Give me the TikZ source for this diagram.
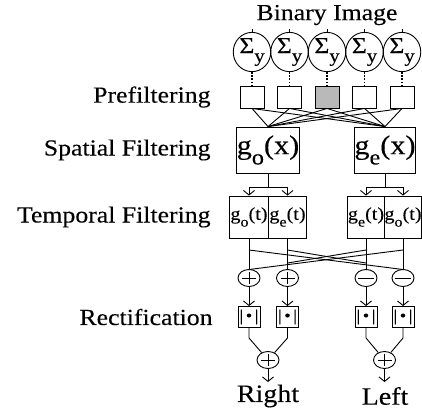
\documentclass[tikz,border=0pt]{standalone}
\usepackage{fontspec}
\usepackage{graphicx}
\setmainfont{Liberation Serif}[FakeStretch=1.12,FakeBold=0.2]
\usetikzlibrary{shapes.geometric,arrows.meta}
\newcommand\dnsub[1]{\raisebox{-0.38em}{\scalebox{0.8}{#1}}}
\tikzset{
  lbl/.style={font=\fontsize{23}{26}\selectfont, inner sep=0pt},
  sig/.style={ellipse, draw, minimum width=37.5, minimum height=25, inner sep=0pt, font=\fontsize{23}{24}\selectfont},
  pbox/.style={draw, minimum width=24, minimum height=22, inner sep=0pt},
  sbox/.style={draw, minimum width=58, minimum height=46, inner sep=0pt, font=\fontsize{27}{29}\selectfont},
  tbox/.style={draw, minimum width=38.5, minimum height=42, inner sep=0pt, font=\fontsize{18}{20}\selectfont},
  pm/.style={ellipse, draw, minimum width=22, minimum height=17, inner sep=0pt},
  rbox/.style={draw, minimum width=22, minimum height=21, inner sep=0pt, font=\fontsize{16}{16}\selectfont},
  arr/.style={-{Straight Barb[length=4.5pt,width=11pt]}},
  dots/.style={line width=1.1pt, dash pattern=on 1.6pt off 1.6pt},
}
\begin{document}
\begin{tikzpicture}[x=1pt,y=-1pt,line width=0.9pt]
\useasboundingbox (0,0) rectangle (422,410);
% labels
\node[lbl] (bin) at (327,15) {Binary Image};
\node[lbl, anchor=east] (lpre) at (211,97) {Prefiltering};
\node[lbl, anchor=east] (lspa) at (211,150) {Spatial Filtering};
\node[lbl, anchor=east] (ltem) at (211,217) {Temporal Filtering};
\node[lbl, anchor=east] (lrec) at (213,317) {Rectification};
\node[lbl, font=\fontsize{25}{27}\selectfont] (right) at (268,396) {Right};
\node[lbl, font=\fontsize{25}{27}\selectfont] (left) at (385,396) {Left};
% sigma circles and prefilters
\foreach \i/\x in {1/252,2/289.5,3/327,4/364.5,5/402}{
  \coordinate (top\i) at (\x,29);
  \node[sig] (s\i) at (\x,52) {Σ\dnsub{y}};
  \draw (top\i) -- (s\i);
}
\node[pbox] (p1) at (252,97) {};
\node[pbox] (p2) at (289.5,97) {};
\node[pbox, fill=gray!55] (p3) at (327,97) {};
\node[pbox] (p4) at (364.5,97) {};
\node[pbox] (p5) at (402,97) {};
\foreach \i in {1,...,5}{\draw[dots] (s\i) -- (p\i);}
% spatial filters
\node[sbox] (so) at (268,150) {g\dnsub{o}(x)};
\node[sbox] (se) at (385,150) {g\dnsub{e}(x)};
\foreach \i in {1,...,5}{
  \draw (p\i.south) -- (so.north);
  \draw (p\i.south) -- (se.north);
}
% temporal filters
\node[tbox] (too) at (249,217) {g\dnsub{o}(t)};
\node[tbox] (toe) at (287.5,217) {g\dnsub{e}(t)};
\node[tbox, minimum width=37] (tee) at (366,217) {g\dnsub{e}(t)};
\node[tbox, minimum width=37] (teo) at (403,217) {g\dnsub{o}(t)};
\coordinate (jl) at (268,187);
\coordinate (jr) at (385,187);
\draw (so) -- (jl);
\draw (se) -- (jr);
\draw[arr] (jl) -| (too.north);
\draw[arr] (jl) -| (toe.north);
\draw[arr] (jr) -| (tee.north);
\draw[arr] (jr) -| (teo.north);
% sum / difference
\node[pm] (a1) at (249,278) {};
\node[pm] (a2) at (287.5,278) {};
\node[pm] (m1) at (366,278) {};
\node[pm] (m2) at (403,278) {};
\draw (a1.center) ++(-7,0) -- ++(14,0) (a1.center) ++(0,-6) -- ++(0,12);
\draw (a2.center) ++(-7,0) -- ++(14,0) (a2.center) ++(0,-6) -- ++(0,12);
\draw (m1.center) ++(-8,0) -- ++(16,0);
\draw (m2.center) ++(-8,0) -- ++(16,0);
\draw (too) -- (a1);
\draw (toe) -- (a2);
\draw (tee) -- (m1);
\draw (teo) -- (m2);
\coordinate (d1) at (249,250);
\coordinate (d2) at (287.5,250);
\coordinate (d3) at (366,250);
\coordinate (d4) at (403,250);
\coordinate (e1) at (249,269.5);
\coordinate (e2) at (287.5,263);
\coordinate (e3) at (366,263);
\coordinate (e4) at (403,269.5);
\draw (d1) -- (e4);
\draw (d2) -- (e3);
\draw (d3) -- (e2);
\draw (d4) -- (e1);
% rectification
\node[rbox] (r1) at (249,317) {|\,•\,|};
\node[rbox] (r2) at (287.5,317) {|\,•\,|};
\node[rbox] (r3) at (366,317) {|\,•\,|};
\node[rbox] (r4) at (403,317) {|\,•\,|};
\draw[arr] (a1) -- (r1);
\draw[arr] (a2) -- (r2);
\draw[arr] (m1) -- (r3);
\draw[arr] (m2) -- (r4);
% final sums
\node[pm] (sr) at (268,360) {};
\node[pm] (sl) at (384.5,360) {};
\draw (sr.center) ++(-7,0) -- ++(14,0) (sr.center) ++(0,-6) -- ++(0,12);
\draw (sl.center) ++(-7,0) -- ++(14,0) (sl.center) ++(0,-6) -- ++(0,12);
\coordinate (b1) at (249,338);
\coordinate (b2) at (287.5,338);
\coordinate (b3) at (366,338);
\coordinate (b4) at (403,338);
\draw (r1) -- (b1) -- (sr);
\draw (r2) -- (b2) -- (sr);
\draw (r3) -- (b3) -- (sl);
\draw (r4) -- (b4) -- (sl);
\coordinate (or) at (268,382);
\coordinate (ol) at (384.5,382);
\draw[arr] (sr) -- (or);
\draw[arr] (sl) -- (ol);
\end{tikzpicture}
\end{document}
